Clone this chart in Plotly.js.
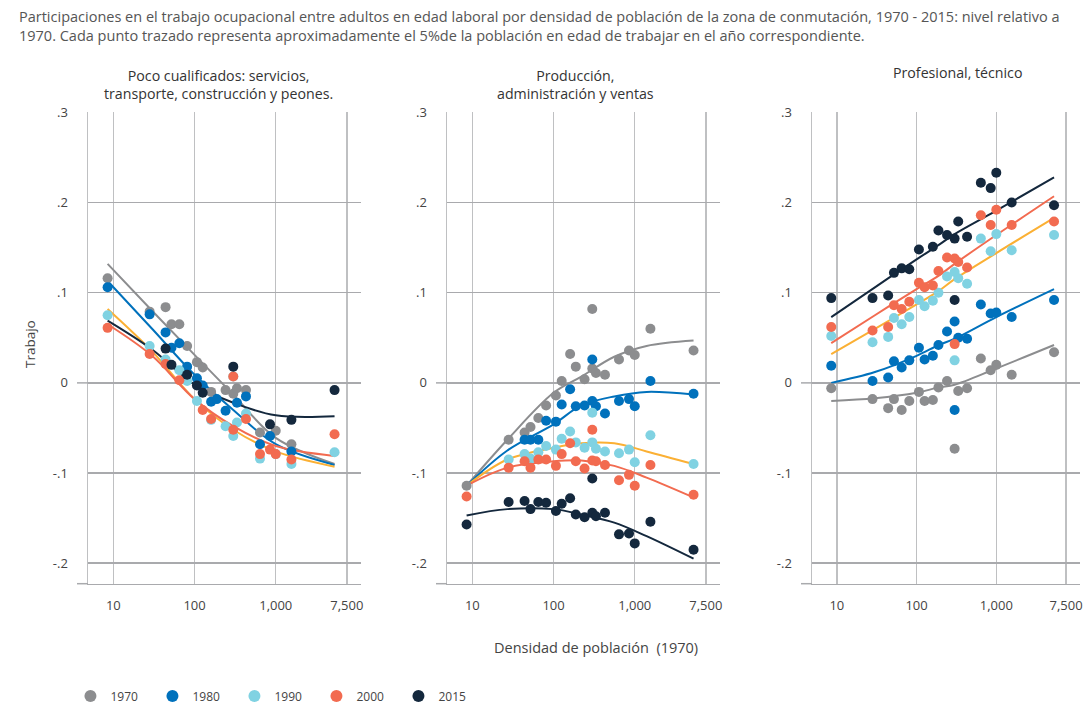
<!DOCTYPE html>
<html><head><meta charset="utf-8">
<script src="https://cdn.plot.ly/plotly-3.3.0.min.js"></script>
<style>html,body{margin:0;padding:0;background:#fff}</style>
</head><body><div id="chart" style="width:1084px;height:711px"></div>
<script>
// ---------- DATA ----------
const years = ['1970', '1980', '1990', '2000', '2015'];
// population density (1970) of each plotted bin (shared across panels)
const density = [8.5, 28, 44, 52, 65, 81, 107, 126, 160, 188, 241, 300, 300, 333, 430, 640, 850, 1000, 1560, 5300];

// Panel 1: Poco cualificados
const low_1970 = [0.116, 0.079, 0.084, 0.065, 0.065, 0.041, 0.023, 0.017, -0.010, null, -0.008, -0.012, null, -0.006, -0.008, -0.055, null, -0.053, -0.068, null];
const low_1980 = [0.106, 0.076, 0.056, 0.039, 0.044, 0.018, 0.005, -0.003, -0.021, -0.018, -0.031, null, null, -0.022, -0.015, -0.068, -0.059, null, -0.076, null];
const low_1990 = [0.075, 0.041, 0.026, null, 0.014, 0.002, -0.020, null, -0.041, null, -0.048, -0.059, 0.007, -0.044, -0.034, -0.084, null, -0.079, -0.090, -0.077];
const low_2000 = [0.061, 0.032, 0.021, null, 0.003, null, null, -0.030, -0.040, null, null, -0.052, 0.007, null, -0.040, -0.079, -0.074, -0.079, -0.085, -0.057];
const low_2015 = [null, null, 0.038, 0.020, null, 0.009, -0.003, -0.011, null, null, null, null, 0.018, null, null, null, -0.046, null, -0.041, -0.008];
const lowFitX = [8.5, 30, 100, 300, 1000, 5300];
const lowFit_1970 = [0.132, 0.080, 0.031, -0.013, -0.061, -0.090];
const lowFit_1980 = [0.113, 0.060, 0.009, -0.030, -0.068, -0.091];
const lowFit_1990 = [0.082, 0.035, -0.018, -0.052, -0.076, -0.093];
const lowFit_2000 = [0.065, 0.030, -0.018, -0.048, -0.070, -0.081];
const lowFit_2015 = [0.069, 0.037, -0.002, -0.022, -0.036, -0.037];

// Panel 2: Producción, administración y ventas
const mid_1970 = [-0.114, -0.063, -0.055, -0.049, -0.039, -0.025, -0.014, 0.002, 0.032, 0.018, 0.004, 0.016, 0.082, 0.011, 0.009, 0.026, 0.036, 0.031, 0.060, 0.036];
const mid_1980 = [null, null, -0.063, -0.063, -0.063, -0.042, -0.043, -0.024, -0.007, -0.026, -0.025, -0.020, 0.026, -0.026, -0.034, -0.020, -0.018, -0.026, 0.002, -0.012];
const mid_1990 = [null, -0.085, -0.079, -0.084, -0.077, -0.070, -0.074, -0.062, -0.054, -0.066, -0.072, -0.066, -0.033, -0.073, -0.076, -0.078, -0.074, -0.088, -0.058, -0.090];
const mid_2000 = [-0.126, -0.094, -0.087, -0.094, -0.085, -0.085, -0.092, -0.079, -0.067, -0.087, -0.095, -0.086, -0.052, -0.087, -0.091, -0.108, -0.102, -0.114, -0.091, -0.124];
const mid_2015 = [-0.157, -0.132, -0.131, -0.140, -0.132, -0.133, -0.142, -0.134, -0.128, -0.146, -0.149, -0.144, -0.106, -0.148, -0.144, -0.168, -0.167, -0.178, -0.154, -0.185];
const midFitX = [8.5, 27, 100, 220, 560, 1400, 5300];
const midFit_1970 = [-0.114, -0.063, -0.011, 0.007, 0.029, 0.041, 0.047];
const midFit_1980 = [-0.114, -0.075, -0.046, -0.025, -0.015, -0.010, -0.013];
const midFit_1990 = [-0.114, -0.085, -0.072, -0.067, -0.067, -0.076, -0.090];
const midFit_2000 = [-0.114, -0.094, -0.087, -0.086, -0.092, -0.105, -0.127];
const midFit_2015 = [-0.147, -0.140, -0.140, -0.146, -0.155, -0.170, -0.195];

// Panel 3: Profesional, técnico
const pro_1970 = [-0.006, -0.018, -0.028, -0.018, -0.030, -0.020, -0.010, -0.020, -0.019, -0.005, 0.002, null, -0.073, -0.009, -0.006, 0.027, 0.014, 0.020, 0.009, 0.034];
const pro_1980 = [0.019, 0.002, 0.006, 0.024, 0.017, 0.025, 0.039, 0.026, 0.030, 0.042, 0.057, 0.068, -0.030, 0.050, 0.049, 0.087, 0.077, 0.078, 0.073, 0.092];
const pro_1990 = [0.052, 0.045, 0.051, 0.072, 0.065, 0.073, 0.092, 0.085, 0.091, 0.100, 0.118, 0.123, 0.025, 0.116, 0.110, 0.160, 0.146, 0.165, 0.147, 0.164];
const pro_2000 = [0.062, 0.058, 0.062, 0.086, 0.082, 0.090, 0.111, 0.106, 0.108, 0.124, 0.139, 0.138, 0.043, 0.134, 0.128, 0.186, 0.175, 0.192, 0.175, 0.179];
const pro_2015 = [0.094, 0.094, 0.097, 0.122, 0.127, 0.126, 0.148, null, 0.151, 0.169, 0.164, 0.160, 0.092, 0.179, 0.162, 0.222, 0.216, 0.233, 0.200, 0.197];
const proFitX = [8.5, 30, 100, 190, 300, 1000, 5300];
const proFit_1970 = [-0.020, -0.017, -0.011, -0.005, -0.002, 0.016, 0.042];
const proFit_1980 = [0.000, 0.012, 0.030, 0.042, 0.049, 0.073, 0.104];
const proFit_1990 = [0.032, 0.060, 0.087, 0.102, 0.115, 0.144, 0.183];
const proFit_2000 = [0.044, 0.075, 0.104, 0.119, 0.132, 0.164, 0.207];
const proFit_2015 = [0.073, 0.106, 0.137, 0.153, 0.165, 0.191, 0.228];

const panelTitles = ['Poco cualificados: servicios,<br>transporte, construcción y peones.',
                     'Producción,<br>administración y ventas',
                     'Profesional, técnico'];
const xTickVals = [10, 100, 1000, 7500];
const xTickText = ['10', '100', '1,000', '7,500'];
const yTickVals = [-0.2, -0.1, 0, 0.1, 0.2, 0.3];
const yTickText = ['-.2', '-.1', '0', '.1', '.2', '.3'];
const titleText = 'Participaciones en el trabajo ocupacional entre adultos en edad laboral por densidad de población de la zona de conmutación, 1970 - 2015: nivel relativo a<br>1970. Cada punto trazado representa aproximadamente el 5%de la población en edad de trabajar en el año correspondiente.';
const xTitle = 'Densidad de población  (1970)';
const yTitle = 'Trabajo';

// ---------- STYLE ----------
const markerColors = ['#8c8d8f', '#0071bc', '#80d2e2', '#f26b50', '#14283d'];
const lineColors   = ['#8c8d8f', '#0071bc', '#fbb034', '#f26b50', '#14283d'];
const FONT = 'Open Sans, Noto Sans, sans-serif';
const hGridCol = '#a9aaad';
const vGridCol = '#bfc0c2';

const panels = [
  {pts: [low_1970, low_1980, low_1990, low_2000, low_2015], fx: lowFitX, fits: [lowFit_1970, lowFit_1980, lowFit_1990, lowFit_2000, lowFit_2015]},
  {pts: [mid_1970, mid_1980, mid_1990, mid_2000, mid_2015], fx: midFitX, fits: [midFit_1970, midFit_1980, midFit_1990, midFit_2000, midFit_2015]},
  {pts: [pro_1970, pro_1980, pro_1990, pro_2000, pro_2015], fx: proFitX, fits: [proFit_1970, proFit_1980, proFit_1990, proFit_2000, proFit_2015]}
];
const W = 1084, H = 711;
const xDomPx = [[88, 361], [447, 720], [812, 1080]];
const yDom = [1 - 587 / H, 1 - 113 / H];

const traces = [];
panels.forEach((p, i) => {
  const xa = i === 0 ? 'x' : 'x' + (i + 1);
  const ya = i === 0 ? 'y' : 'y' + (i + 1);
  p.fits.forEach((f, k) => {
    traces.push({type: 'scatter', mode: 'lines', x: p.fx, y: f, xaxis: xa, yaxis: ya,
      line: {color: lineColors[k], width: 2, shape: 'spline', smoothing: 1},
      showlegend: false, hoverinfo: 'skip'});
  });
  p.pts.forEach((s, k) => {
    traces.push({type: 'scatter', mode: 'markers', x: density, y: s, xaxis: xa, yaxis: ya,
      name: years[k], legendgroup: years[k], showlegend: i === 0,
      marker: {color: markerColors[k], size: 10}});
  });
});

const layout = {
  width: W, height: H,
  margin: {l: 0, r: 0, t: 0, b: 0},
  paper_bgcolor: '#fff', plot_bgcolor: 'rgba(0,0,0,0)',
  font: {family: FONT, size: 13, color: '#444'},
  showlegend: true,
  legend: {orientation: 'h', x: 0.065, xanchor: 'left', y: 1 - 700 / H, yanchor: 'middle',
    font: {family: FONT, size: 12, color: '#444'}, itemsizing: 'constant',
    entrywidth: 37, entrywidthmode: 'pixels', traceorder: 'normal'},
  annotations: [],
  shapes: []
};
const titleCenters = [218, 575, 957];
const titleTops = [64, 64, 61];
panels.forEach((p, i) => {
  const sfx = i === 0 ? '' : String(i + 1);
  const dom = [xDomPx[i][0] / W, Math.min(1, xDomPx[i][1] / W)];
  layout['xaxis' + sfx] = {type: 'log', domain: dom, range: [0.688, 4.05], anchor: 'y' + sfx,
    tickvals: xTickVals, ticktext: xTickText, showgrid: true, gridcolor: vGridCol, gridwidth: 1.5,
    zeroline: false, showline: true, linecolor: hGridCol, linewidth: 1.5,
    ticks: 'outside', ticklen: 9, tickcolor: 'rgba(0,0,0,0)', ticklabeloverflow: 'allow',
    tickfont: {family: FONT, size: 13, color: '#444'}, fixedrange: true};
  layout['yaxis' + sfx] = {domain: yDom, range: [-0.2227, 0.3], anchor: 'x' + sfx,
    tickvals: yTickVals, ticktext: yTickText, showgrid: true, gridcolor: hGridCol, gridwidth: 1.5,
    zeroline: false, showline: true, linecolor: vGridCol, linewidth: 1.5,
    ticks: 'outside', ticklen: 16, tickcolor: 'rgba(0,0,0,0)',
    tickfont: {family: FONT, size: 13, color: '#444'}, fixedrange: true};
  // short extensions of the zero line and the base line to the left of each panel
  layout.shapes.push({type: 'line', xref: 'paper', yref: 'y' + sfx, x0: (xDomPx[i][0] - 11) / W, x1: dom[0], y0: 0, y1: 0,
    line: {color: hGridCol, width: 1.5}});
  layout.shapes.push({type: 'line', xref: 'paper', yref: 'paper', x0: (xDomPx[i][0] - 11) / W, x1: dom[0], y0: yDom[0], y1: yDom[0],
    line: {color: hGridCol, width: 1.5}});
  layout.annotations.push({text: panelTitles[i], xref: 'paper', yref: 'paper', x: titleCenters[i] / W, y: 1 - titleTops[i] / H,
    xanchor: 'center', yanchor: 'top', showarrow: false, align: 'center',
    font: {family: FONT, size: 14.2, color: '#333'}});
});
layout.annotations.push({text: titleText, xref: 'paper', yref: 'paper', x: 17 / W, y: 1 - 5 / H,
  xanchor: 'left', yanchor: 'top', showarrow: false, align: 'left',
  font: {family: FONT, size: 14.5, color: '#555'}});
layout.annotations.push({text: xTitle, xref: 'paper', yref: 'paper', x: 596 / W, y: 1 - 651 / H,
  xanchor: 'center', yanchor: 'middle', showarrow: false, font: {family: FONT, size: 14.5, color: '#444'}});
layout.annotations.push({text: yTitle, xref: 'paper', yref: 'paper', x: 30 / W, y: 1 - 346 / H,
  xanchor: 'center', yanchor: 'middle', showarrow: false, textangle: -90, font: {family: FONT, size: 13.5, color: '#444'}});

Plotly.newPlot('chart', traces, layout, {displayModeBar: false, staticPlot: true});
</script></body></html>
